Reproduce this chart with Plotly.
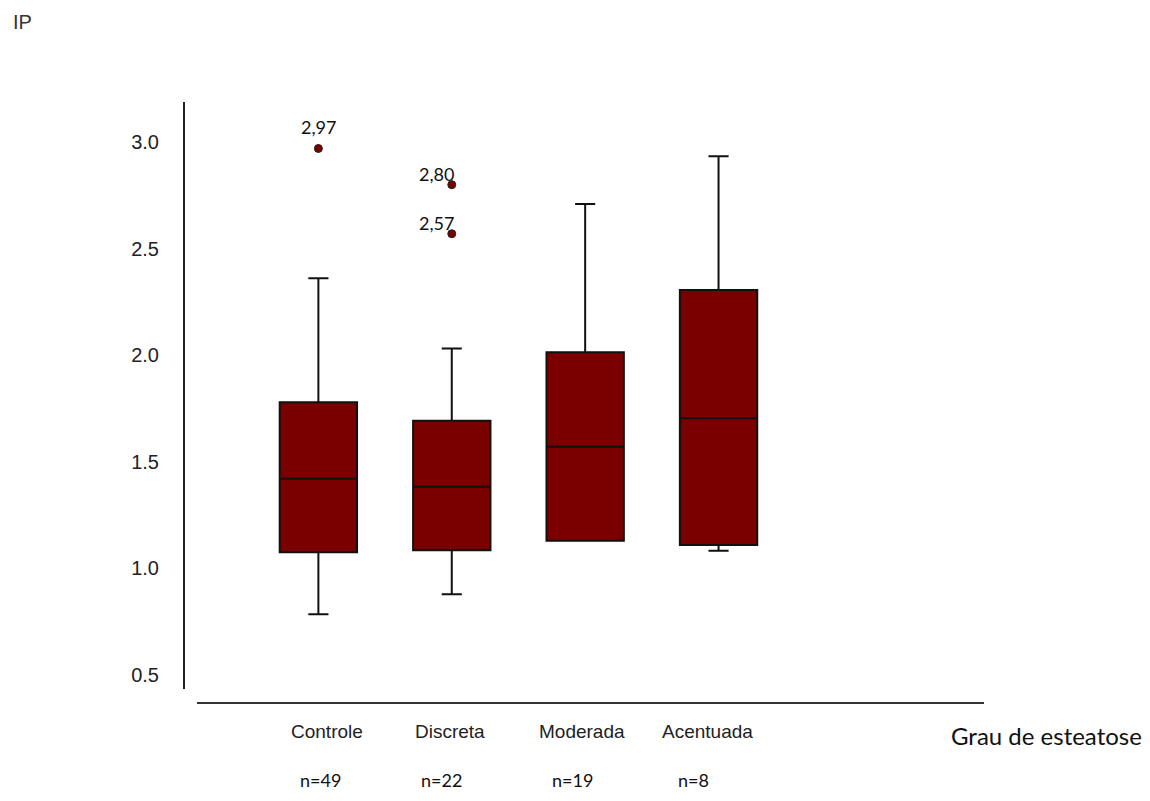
import plotly.graph_objects as go

# ---- data ----
categories = ["Controle", "Discreta", "Moderada", "Acentuada"]
n_labels = ["n=49", "n=22", "n=19", "n=8"]
lower_fence = [0.785, 0.879, 1.130, 1.083]
q1 = [1.076, 1.085, 1.130, 1.110]
median = [1.421, 1.383, 1.571, 1.704]
q3 = [1.779, 1.693, 2.014, 2.306]
upper_fence = [2.361, 2.032, 2.709, 2.934]
outlier_cat = [0, 1, 1]
outlier_val = [2.97, 2.80, 2.57]
y_ticks = [0.5, 1.0, 1.5, 2.0, 2.5, 3.0]

# ---- style ----
FILL = "#7a0000"
label_shift = [(0, 21), (-15, 11), (-15, 11)]
cat_label_shift = [9, -2, -3, -11]
n_label_shift = [2, -10, -13, -25]

positions = list(range(len(categories)))

fig = go.Figure()
fig.add_trace(go.Box(
    x=positions, q1=q1, median=median, q3=q3,
    lowerfence=lower_fence, upperfence=upper_fence,
    boxpoints=False, width=0.58, whiskerwidth=0.26,
    fillcolor=FILL, line=dict(color="#111111", width=2),
    showlegend=False, hoverinfo="skip",
))
fig.add_trace(go.Scatter(
    x=outlier_cat, y=outlier_val, mode="markers",
    marker=dict(size=8, color=FILL, line=dict(color="#222222", width=1)),
    showlegend=False, hoverinfo="skip",
))

for cx, v, (dx, dy) in zip(outlier_cat, outlier_val, label_shift):
    fig.add_annotation(x=cx, y=v, xref="x", yref="y",
                       text=f"{v:.2f}".replace(".", ","), showarrow=False,
                       xshift=dx, yshift=dy,
                       font=dict(family="Lato", size=18, color="#111111"))

for cx, cat, dx in zip(positions, categories, cat_label_shift):
    fig.add_annotation(x=cx, y=(801 - 731) / 801, xref="x", yref="paper",
                       text=cat, showarrow=False, yanchor="middle", xshift=dx,
                       font=dict(family="Liberation Sans", size=19, color="#222222"))

for cx, nl, dx in zip(positions, n_labels, n_label_shift):
    fig.add_annotation(x=cx, y=(801 - 780) / 801, xref="x", yref="paper",
                       text=nl, showarrow=False, yanchor="middle", xshift=dx,
                       font=dict(family="Lato", size=18, color="#111111"))

fig.add_annotation(x=1046 / 1150, y=(801 - 735) / 801, xref="paper", yref="paper",
                   text="Grau de esteatose", showarrow=False,
                   xanchor="center", yanchor="middle",
                   font=dict(family="Lato", size=24, color="#111111"))
fig.add_annotation(x=11 / 1150, y=(801 - 22) / 801, xref="paper", yref="paper",
                   text="IP", showarrow=False, xanchor="left", yanchor="middle",
                   font=dict(family="Liberation Sans", size=20, color="#333333"))

fig.update_layout(
    width=1150, height=801,
    margin=dict(l=0, r=0, t=0, b=0),
    paper_bgcolor="white", plot_bgcolor="white",
    xaxis=dict(
        domain=[197 / 1150, 984 / 1150], anchor="free", position=(801 - 703) / 801,
        range=[-0.91, 4.99], tickvals=positions, showticklabels=False,
        showline=True, linecolor="#333333", linewidth=2,
        ticks="", showgrid=False, zeroline=False,
    ),
    yaxis=dict(
        domain=[(801 - 689) / 801, (801 - 102) / 801], anchor="free", position=184 / 1150,
        range=[0.434, 3.188], tickvals=y_ticks, tickformat=".1f",
        showline=True, linecolor="#222222", linewidth=2,
        ticks="outside", ticklen=20, tickcolor="rgba(0,0,0,0)",
        showgrid=False, zeroline=False,
        tickfont=dict(family="Liberation Sans", size=20, color="#222222"),
    ),
)

fig.write_html("out.html", config={"displayModeBar": False},
               post_script="document.body.style.margin='0';")
